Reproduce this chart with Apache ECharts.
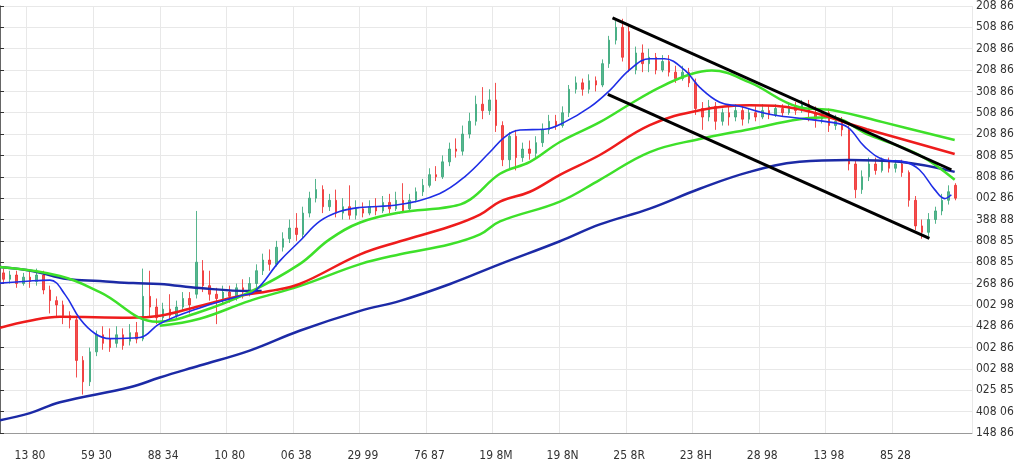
<!DOCTYPE html>
<html>
<head>
<meta charset="utf-8">
<script src="https://cdn.jsdelivr.net/npm/echarts@6/dist/echarts.min.js"></script>
<style>html,body{margin:0;padding:0;background:#fff}#chart{width:1024px;height:464px}</style>
</head>
<body>
<div id="chart"></div>
<script>
// tick labels
var xLabels = ['13 80','59 30','88 34','10 80','06 38','29 99','76 87','19 8M','19 8N','25 8R','23 8H','28 98','13 98','85 28'];
var yLabels = ['148 86','408 06','025 85','002 88','002 86','428 86','002 98','268 86','808 85','808 85',
               '388 88','002 86','808 86','808 85','208 86','508 86','308 86','208 86','208 86','508 86','208 86'];

// candles: [open, close, low, high]
var candles = [
[7.5,7.2,7.0,7.7],[7.2,7.4,7.0,7.6],[7.4,7.0,6.8,7.6],[7.0,7.3,6.9,7.5],[7.3,7.1,6.8,7.6],
[7.1,7.4,6.9,7.7],[7.4,6.7,6.5,7.6],[6.7,6.2,5.6,6.9],[6.2,6.0,5.4,6.4],[6.0,5.5,5.1,6.2],
[5.5,5.3,4.9,5.7],[5.3,3.4,2.6,5.4],[3.4,2.4,1.8,3.6],[2.4,3.8,2.2,4.0],[3.8,4.6,3.6,4.8],
[4.6,4.2,3.9,5.0],[4.4,4.0,3.8,4.9],[4.2,4.6,4.0,5.0],[4.6,4.1,3.9,4.9],[4.3,4.7,4.1,5.1],
[4.7,4.4,4.2,5.2],[4.4,6.4,4.3,7.7],[6.4,5.9,5.4,7.6],[5.9,5.4,5.1,6.3],[5.4,5.8,5.2,6.1],
[5.8,5.5,5.2,6.5],[5.5,5.9,5.3,6.2],[5.9,6.3,5.7,6.6],[6.3,6.0,5.6,6.6],[6.5,8.0,6.3,10.4],
[7.6,6.9,6.6,8.1],[6.9,6.5,6.2,7.6],[6.5,6.3,5.1,6.8],[6.3,6.6,6.0,6.9],[6.6,6.4,6.1,6.9],
[6.4,6.8,6.2,7.0],[6.8,6.6,6.3,7.2],[6.6,7.0,6.4,7.3],[7.0,7.6,6.8,7.9],[7.6,8.1,7.4,8.4],
[8.1,7.9,7.6,8.6],[7.9,8.7,7.8,9.0],[8.7,9.1,8.5,9.4],[9.1,9.6,8.9,10.0],[9.6,9.3,9.0,10.3],
[9.3,10.3,9.1,10.6],[10.3,11.0,10.1,11.3],[11.0,11.4,10.8,11.9],[11.4,10.6,10.3,11.6],[10.6,10.9,10.4,11.2],
[10.9,10.3,10.1,11.4],[10.3,10.6,10.0,11.0],[10.6,10.2,10.0,11.6],[10.2,10.5,10.0,10.9],[10.5,10.3,10.1,10.8],
[10.3,10.6,10.2,10.9],[10.6,10.4,10.2,11.0],[10.4,10.8,10.3,11.1],[10.8,10.5,10.3,11.2],[10.5,10.9,10.4,11.3],
[10.9,10.4,10.3,11.7],[10.5,10.9,10.4,11.2],[10.9,11.3,10.8,11.5],[11.3,11.6,11.1,11.9],[11.6,12.1,11.5,12.4],
[12.1,12.0,11.8,12.5],[12.0,12.7,11.9,13.0],[12.7,13.3,12.5,13.6],[13.3,13.2,12.9,13.8],[13.2,14.0,13.0,14.4],
[14.0,14.6,13.8,15.0],[14.6,15.4,14.4,15.8],[15.4,15.1,14.7,16.2],[15.1,15.6,14.9,16.1],[15.6,14.4,14.1,16.4],
[14.4,12.8,12.5,14.6],[12.8,13.9,12.4,14.1],[13.9,12.9,12.3,14.2],[12.9,13.3,12.7,13.6],[13.3,13.1,12.8,13.7],
[13.1,13.6,12.9,13.9],[13.6,14.2,13.4,14.5],[14.2,14.6,14.0,14.9],[14.6,14.4,14.2,14.9],[14.4,15.0,14.3,15.3],
[15.0,16.1,14.8,16.3],[16.1,16.4,15.9,16.7],[16.4,16.1,15.8,16.6],[16.1,16.5,15.9,16.8],[16.5,16.3,16.0,16.7],
[16.3,17.3,16.2,17.5],[17.3,18.4,17.1,18.6],[18.4,19.0,18.2,19.3],[19.0,17.6,17.4,19.4],[18.8,17.0,16.9,19.1],
[17.0,17.8,16.8,18.1],[17.8,17.3,16.9,18.2],[17.3,17.6,16.9,18.0],[17.6,17.0,16.8,17.8],[17.0,17.4,16.9,17.7],
[17.4,16.9,16.7,17.7],[16.9,16.6,16.4,17.2],[16.6,16.9,16.5,17.2],[16.9,16.4,16.2,17.1],[16.4,15.2,14.9,16.6],
[15.2,14.8,14.2,15.5],[14.8,15.3,14.6,15.6],[15.3,14.6,14.2,15.5],[14.6,15.0,14.4,15.2],[15.0,14.8,14.4,15.3],
[14.8,15.1,14.6,15.4],[15.1,14.7,14.4,15.3],[14.7,15.0,14.5,15.2],[15.0,14.8,14.6,15.3],[14.8,15.1,14.7,15.4],
[15.1,14.9,14.7,15.3],[14.9,15.2,14.8,15.4],[15.2,15.0,14.8,15.4],[15.0,15.3,14.9,15.5],[15.3,15.1,14.9,15.5],
[15.1,15.4,15.0,15.6],[15.4,15.0,14.6,15.6],[15.0,14.7,14.3,15.3],[14.7,15.0,14.5,15.2],[15.0,14.4,14.1,15.2],
[14.4,14.6,14.2,14.9],[14.6,14.2,13.9,14.8],[14.2,12.6,12.3,14.4],[12.6,11.4,11.0,12.8],[11.4,12.0,11.2,12.3],
[12.0,12.6,11.8,12.9],[12.6,12.3,12.1,12.9],[12.3,12.7,12.2,12.9],[12.7,12.4,12.2,12.9],[12.4,12.6,12.2,12.8],
[12.6,12.2,12.0,12.8],[12.2,10.9,10.6,12.3],[10.9,9.7,9.5,11.1],[9.7,9.4,9.1,10.0],[9.4,10.0,9.2,10.3],
[10.0,10.4,9.8,10.6],[10.4,10.9,10.2,11.2],[10.9,11.3,10.7,11.6],[11.6,11.0,10.9,11.7]
];

// moving-average curves: [time position, value]
var maFast = [[0,7.02],[4.5,7.12],[7.5,7.16],[9.8,6.47],[12,5.35],[14.3,4.65],[16.5,4.42],[21,4.47],[24,5.12],[30,5.86],
  [36,6.42],[38.3,6.65],[42,8.05],[45,8.98],[48,9.91],[51,10.37],[54,10.56],[60,10.70],[66,11.21],[69.8,12.0],
  [73.6,13.16],[75.8,13.86],[78.1,14.19],[81.8,14.23],[84.8,14.56],[88.6,15.26],[91.6,16.05],[94.6,17.02],[97.6,17.53],[99.8,17.53],
  [102.9,16.98],[105.1,16.19],[108.1,15.49],[111.1,15.30],[115.6,14.93],[120.1,14.74],[124.6,14.56],[127.3,14.33],[129.9,13.40],[132.9,12.79],
  [135.9,12.70],[138.1,12.33],[140.4,11.40],[141.9,10.98],[142.9,11.16]];
var maGreenA = [[0,7.77],[9,7.35],[15,6.6],[23.6,5.21],[30,5.67],[37.5,6.6],[45,7.91],[49.5,9.07],[54.1,9.86],[60.1,10.33],
  [67.6,10.6],[70.6,10.93],[75.1,12.14],[79.6,12.7],[84.1,13.63],[90.1,14.56],[94.6,15.4],[99.1,16.19],[103.6,16.79],[106.9,16.98],
  [112.6,16.42],[120.1,15.26],[125.1,15.12],[132.6,14.56],[143.4,13.72]];
var maRed = [[0,4.93],[4.5,5.26],[9,5.44],[19.5,5.4],[24,5.49],[30,5.95],[36,6.42],[40.5,6.65],[45,6.98],[54.1,8.37],
  [60.1,8.98],[67.6,9.67],[72.1,10.23],[75.1,10.84],[79.6,11.3],[84.1,12.09],[90.1,13.02],[97.6,14.42],[105.1,15.12],[112.6,15.35],
  [120.1,15.16],[130.2,14.23],[143.4,13.07]];
var maGreenB = [[24,5.02],[30,5.35],[37.5,6.19],[45,6.88],[54.1,7.91],[60.1,8.37],[67.6,8.84],[72.1,9.3],[75.1,9.91],[84.1,10.84],
  [90.1,11.86],[97.6,13.16],[105.1,13.77],[112.6,14.23],[120.1,14.7],[124.6,14.79],[130.6,13.95],[138.1,13.02],[143.4,11.86]];
var maNavy = [[0,7.77],[5,7.58],[10.1,7.21],[15,7.12],[20,7.02],[24,6.98],[30,6.79],[37.5,6.65],[39.3,6.65]];
var maSlow = [[0,0.6],[4.5,0.93],[9,1.44],[19.5,2.14],[24,2.6],[30,3.16],[37.5,3.86],[45,4.79],[54.1,5.72],[60.1,6.19],
  [67.6,6.98],[75.1,7.91],[84.1,8.98],[90.1,9.77],[97.6,10.51],[105.1,11.44],[112.6,12.23],[120.1,12.7],[127.6,12.79],[135.1,12.7],[143.4,12.23]];
// channel trend lines
var trendUpper = [[92.0,19.44],[142.9,12.33]];
var trendLower = [[91.3,15.86],[139.6,9.12]];

var nCats = 146;
var categories = [];
for (var i = 0; i < nCats; i++) {
    var k = (i - 4) / 10;
    categories.push(i >= 4 && (i - 4) % 10 === 0 && xLabels[k] ? xLabels[k] : 'c' + i);
}

function lineSeries(data, color, width) {
    return {type: 'line', xAxisIndex: 1, data: data, smooth: 0.4, showSymbol: false, silent: true,
        lineStyle: {color: color, width: width}};
}

var myChart = echarts.init(document.getElementById('chart'));
option = {
    animation: false,
    backgroundColor: '#fff',
    grid: {left: 0, right: 52, top: 3, bottom: 31},
    xAxis: [{
        type: 'category', data: categories, boundaryGap: true,
        axisLine: {lineStyle: {color: '#999'}},
        axisTick: {show: false},
        axisLabel: {
            interval: 0, color: '#333', fontSize: 12, margin: 17, fontFamily: 'DejaVu Sans Condensed',
            formatter: function (v) { return v.charAt(0) === 'c' ? '' : v; }
        },
        splitLine: {show: true, interval: function (i, v) { return v.charAt(0) !== 'c'; },
            lineStyle: {color: '#e8e8e8'}}
    }, {
        type: 'value', min: 0, max: nCats, show: false
    }],
    yAxis: {
        type: 'value', position: 'right', min: 0, max: 20, interval: 1,
        axisLine: {show: true, lineStyle: {color: '#333', width: 1.5}},
        axisTick: {show: true, length: 4, lineStyle: {color: '#333'}},
        axisLabel: {color: '#333', fontSize: 12, margin: 4, fontFamily: 'DejaVu Sans Condensed',
            formatter: function (v) { return yLabels[Math.round(v)]; }},
        splitLine: {lineStyle: {color: '#e8e8e8'}}
    },
    series: [
        {type: 'candlestick', data: candles, barWidth: 2,
            itemStyle: {color: '#3aa87a', color0: '#f03030', borderColor: '#3aa87a', borderColor0: '#f03030', borderWidth: 1, opacity: 0.85}},
        lineSeries(maSlow, '#1c2aa6', 2.5),
        lineSeries(maNavy, '#1c2aa6', 2.5),
        lineSeries(maGreenB, '#3ee02a', 2.5),
        lineSeries(maRed, '#ee1c1c', 2.5),
        lineSeries(maGreenA, '#3ee02a', 2.5),
        lineSeries(maFast, '#1f2ee6', 1.6),
        {type: 'line', xAxisIndex: 1, data: trendUpper, showSymbol: false, silent: true, lineStyle: {color: '#000', width: 3}},
        {type: 'line', xAxisIndex: 1, data: trendLower, showSymbol: false, silent: true, lineStyle: {color: '#000', width: 3}}
    ]
};
myChart.setOption(option);
window.addEventListener('resize', function () { myChart.resize(); });
</script>
</body>
</html>
